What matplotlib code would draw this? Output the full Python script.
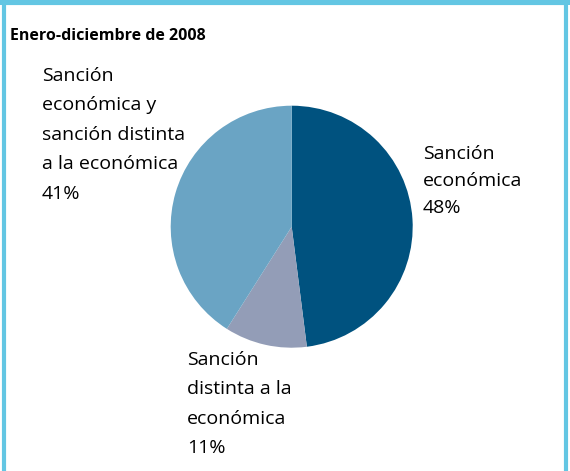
import matplotlib.pyplot as plt
from matplotlib.patches import Rectangle

title = 'Enero-diciembre de 2008'
labels = ['Sanción\neconómica', 'Sanción\ndistinta a la\neconómica',
          'Sanción\neconómica y\nsanción distinta\na la económica']
values = [48, 11, 41]
colors = ['#00527f', '#939db7', '#6aa4c4']

W, H = 570, 471
fig = plt.figure(figsize=(W / 100, H / 100), dpi=100)
plt.rcParams['font.family'] = ['Open Sans', 'DejaVu Sans']

# frame
fig.patches.append(Rectangle((4 / W, -0.05), 562 / W, 1.05 - 3 / H, transform=fig.transFigure,
                             fill=False, edgecolor='#63c6e3', linewidth=3))
fig.patches.append(Rectangle((0, 1 - 5 / H), 1, 5 / H, transform=fig.transFigure,
                             facecolor='#63c6e3', edgecolor='none'))

fig.text(10 / W, 1 - 36 / H, title, fontsize=11.5, fontweight='bold', va='center', ha='left')

cx, cy, r = 291.7, 226.7, 121
ax = fig.add_axes([(cx - r) / W, (H - cy - r) / H, 2 * r / W, 2 * r / H])
ax.pie(values, colors=colors, startangle=90, counterclock=False, radius=1,
       wedgeprops=dict(linewidth=0))
ax.set_xlim(-1, 1)
ax.set_ylim(-1, 1)
ax.set_aspect('equal')
ax.axis('off')

# label positions (top-left of text block, pixels) and line spacing
pos = [(423, 145), (187, 351), (42, 67)]
spacing = [1.65, 1.82, 1.82]
for lab, v, (x, y), ls in zip(labels, values, pos, spacing):
    fig.text(x / W, 1 - y / H, lab + '\n' + str(v) + '%', fontsize=14,
             va='top', ha='left', linespacing=ls)

plt.savefig('out.png', dpi=100)
